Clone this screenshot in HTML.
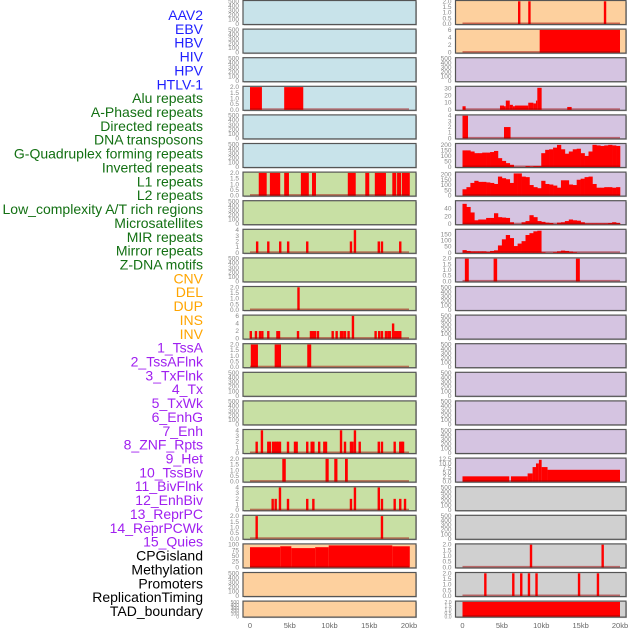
<!DOCTYPE html>
<html><head><meta charset="utf-8"><style>
html,body{margin:0;padding:0;background:#fff;width:630px;height:630px;overflow:hidden}
svg{display:block;font-family:"Liberation Sans",sans-serif}
</style></head><body>
<svg id="chart" width="630" height="630" viewBox="0 0 630 630" xmlns="http://www.w3.org/2000/svg"></svg>
<script>
// ---- labels ----
const trackLabels = ["AAV2","EBV","HBV","HIV","HPV","HTLV-1","Alu repeats","A-Phased repeats","Directed repeats","DNA transposons","G-Quadruplex forming repeats","Inverted repeats","L1 repeats","L2 repeats","Low_complexity A/T rich regions","Microsatellites","MIR repeats","Mirror repeats","Z-DNA motifs","CNV","DEL","DUP","INS","INV","1_TssA","2_TssAFlnk","3_TxFlnk","4_Tx","5_TxWk","6_EnhG","7_Enh","8_ZNF_Rpts","9_Het","10_TssBiv","11_BivFlnk","12_EnhBiv","13_ReprPC","14_ReprPCWk","15_Quies","CPGisland","Methylation","Promoters","ReplicationTiming","TAD_boundary"];
const labelGroups = [0,0,0,0,0,0,1,1,1,1,1,1,1,1,1,1,1,1,1,2,2,2,2,2,3,3,3,3,3,3,3,3,3,3,3,3,3,3,3,4,4,4,4,4];
const groupColors = ["#1f1fff","#137013","#ffa500","#a020f0","#000000"];
const xTickLabels = ["0","5kb","10kb","15kb","20kb"];
const xTickValues = [0,5,10,15,20];

// ---- data (kb positions, values) ----
const aluSegs = [[0,1.5,2],[4.3,6.7,2]];
const l1Segs = [[1.1,2.1,2],[2.5,3.8,2],[4.3,4.9,2],[6.4,7.4,2],[7.8,8.3,2],[12.3,13.3,2],[14.5,15,2],[15.7,17.1,2],[17.9,18.4,2],[18.5,19,2],[19.1,20.1,2]];
const mirPos = [0.9,2.3,3.8,4.8,7.2,12.7,13.2,16.2,16.6,18.9];
const mirVals = [2,2,2,2,2,2,4,2,2,2];
const delPos = [6.1];
const delVals = [2];
const insPos = [0.1,0.75,1.26,1.55,2.3,3.45,3.65,6.04,7.67,7.9,8.18,8.55,10.4,10.9,11.45,11.65,11.95,12.4,12.95,15.8,16.25,16.6,17.1,17.4,17.6,18.0,18.2,18.45,18.65,18.9];
const insVals = [2,2,2,2,2,2,2,2,2,2,2,2,2,2,2,2,2,2,6,2,2,2,2,2,2,4,2,2,2,2];
const tssaSegs = [[0.1,1.0,2],[3.1,3.9,2],[7.2,7.7,2]];
const enhPos = [0.84,1.5,2.3,2.5,2.9,3.15,3.35,3.56,3.77,4.78,5.66,5.87,7.2,7.76,7.97,8.7,9.35,9.56,11.45,11.95,12.7,12.9,13.2,13.8,16.2,16.6,18.2,18.9,19.1,19.25];
const enhVals = [2,4,2,2,2,2,2,2,2,2,2,2,2,2,2,2,2,2,4,2,2,2,4,2,2,2,2,2,2,2];
const hetSegs = [[4.06,4.5,2],[9.5,9.9,2],[10.6,11.0,2],[11.95,12.3,2]];
const bivPos = [2.85,3.23,3.77,4.78,7.2,7.97,12.7,13.2,16.2,16.6,18.2,18.9,19.5];
const bivVals = [2,2,4,2,2,2,2,4,4,2,2,2,2];
const reprPos = [0.84,16.6];
const reprVals = [2,2];
const quiesSegs = [[0,3.8,89],[3.8,5.2,93],[5.2,8.2,85],[8.2,9.9,89],[9.9,17.9,97],[17.9,20.1,93]];
const ebvPos = [7.2,8.5,18.1];
const ebvVals = [2,2,2];
const hivSegs = [[9.8,20,6]];
const aphasedSegs = [[0,0.4,5],[4.76,5.27,6],[5.27,5.5,5],[5.5,6.0,13],[6.0,6.4,7],[6.4,6.66,5],[6.66,8.35,6],[8.35,9.0,10],[9.0,9.33,9],[9.33,9.5,13],[9.5,10.05,31],[13.3,13.86,4]];
const dnaSegs = [[0,0.7,4],[5.27,6.1,2]];
const invertedBins = [150,150,140,125,125,130,130,135,145,80,55,35,20,0,0,0,8,5,8,8,125,155,160,175,200,160,120,140,160,165,125,100,140,200,195,190,195,200,195,190];
const l2Bins = [60,80,120,140,130,130,125,120,110,180,165,155,120,210,210,180,175,100,80,70,140,110,105,95,75,145,145,105,100,150,160,175,180,110,75,75,80,80,75,80];
const microBins = [52,44,30,10,12,12,16,16,28,18,17,16,5,0,0,5,8,23,18,8,6,4,3,0,4,5,8,12,10,9,5,2,2,2,2,2,2,3,5,3];
const mirrorBins = [22,15,12,12,12,12,8,15,20,60,110,145,120,55,75,95,145,160,175,180,5,0,0,5,12,18,15,10,5,0,0,0,0,0,0,0,0,0,0,0];
const cnvSegs = [[0.3,0.8,2],[3.95,4.4,2],[14.4,14.9,2]];
const tssbivSegs = [[0,5.94,2.9],[6.15,8.27,2.9],[8.27,8.9,4.5],[8.9,9.33,8],[9.33,9.7,10],[9.7,10.05,12],[10.05,10.8,8],[10.8,20,6.5]];
const cpgPos = [8.7,17.8];
const cpgVals = [2,2];
const promPos = [2.9,6.45,7.46,8.44,9.4,14.8,17.2];
const promVals = [2,2,2,2,2,2,2];
const tadSegs = [[0,20,2]];

// ---- panel config ----
const BLUE="#c8e3ea", GREEN="#c8e0a4", ORANGE="#fdd09e", PURPLE="#d5c4e1", GRAY="#d0d0d0";
const T500=[0,100,200,300,400,500], T2=[0,0.5,1,1.5,2], T4=[0,1,2,3,4];
function P(name,color,ymax,ticks,kind,a,b){return {name,color,ymax,ticks,kind,a,b};}
const leftPanels = [
 P("aav2",BLUE,500,T500),P("hbv",BLUE,500,T500),P("hpv",BLUE,500,T500),
 P("alu",BLUE,2,T2,"seg",aluSegs),P("directed",BLUE,500,T500),P("g4",BLUE,500,T500),
 P("l1",GREEN,2,T2,"seg",l1Segs),P("lowcomplexity",GREEN,500,T500),
 P("mir",GREEN,4,T4,"spk",mirPos,mirVals),P("zdna",GREEN,500,T500),
 P("del",GREEN,2,T2,"spk",delPos,delVals),P("ins",GREEN,6,[0,2,4,6],"spk",insPos,insVals),
 P("tssa",GREEN,2,T2,"seg",tssaSegs),P("txflnk",GREEN,500,T500),P("txwk",GREEN,500,T500),
 P("enh",GREEN,4,T4,"spk",enhPos,enhVals),P("het",GREEN,2,T2,"seg",hetSegs),
 P("bivflnk",GREEN,4,T4,"spk",bivPos,bivVals),P("reprpc",GREEN,2,T2,"spk",reprPos,reprVals),
 P("quies",ORANGE,100,[0,25,50,75,100],"seg",quiesSegs),P("methylation",ORANGE,500,T500),
 P("replicationtiming",ORANGE,500,T500)];
const rightPanels = [
 P("ebv",ORANGE,2,T2,"spk",ebvPos,ebvVals),P("hiv",ORANGE,6,[0,2,4,6],"seg",hivSegs),
 P("htlv1",PURPLE,500,T500),P("aphased",PURPLE,32,[0,10,20,30],"seg",aphasedSegs),
 P("dna-transposons",PURPLE,4,T4,"seg",dnaSegs),P("inverted",PURPLE,205,[0,50,100,150,200],"bin",invertedBins),
 P("l2",PURPLE,215,[0,50,100,150,200],"bin",l2Bins),P("microsatellites",PURPLE,58,[0,20,40],"bin",microBins),
 P("mirror",PURPLE,185,[0,50,100,150],"bin",mirrorBins),P("cnv",PURPLE,2,T2,"seg",cnvSegs),
 P("dup",PURPLE,500,T500),P("inv",PURPLE,500,T500),P("tssaflnk",PURPLE,500,T500),
 P("tx",PURPLE,500,T500),P("enhg",PURPLE,500,T500),P("znf-rpts",PURPLE,500,T500),
 P("tssbiv",PURPLE,12.5,[0,2.5,5,7.5,10,12.5],"seg",tssbivSegs),
 P("enhbiv",GRAY,500,T500),P("reprpcwk",GRAY,500,T500),
 P("cpgisland",GRAY,2,T2,"spk",cpgPos,cpgVals),P("promoters",GRAY,2,T2,"spk",promPos,promVals),
 P("tad-boundary",GRAY,2,T2,"seg",tadSegs)];

const NS="http://www.w3.org/2000/svg";
const svg=document.getElementById("chart");
function mk(tag,attrs,parent){const e=document.createElementNS(NS,tag);for(const k in attrs)e.setAttribute(k,attrs[k]);(parent||svg).appendChild(e);return e;}

// labels
trackLabels.forEach((t,i)=>{
  const e=mk("text",{x:203,y:20+i*13.86,"text-anchor":"end","font-size":"14",fill:groupColors[labelGroups[i]]});
  
  
  e.textContent=t;
});

function drawColumn(panels,px0,px1,x0kb,x20kb,side){
  const xs=kb=>x0kb+(x20kb-x0kb)*kb/20;
  panels.forEach((p,i)=>{
    const top=i*28.6+0.5;
    const h=(i===21)?16:24;
    const g=mk("g",{});
    
    
    mk("rect",{x:px0+1,y:top+1,width:px1-px0,height:h,fill:"#999",opacity:"0.6"},g);
    mk("rect",{x:px0,y:top,width:px1-px0,height:h,fill:p.color,stroke:"#555","stroke-width":"1.2"},g);
    const y0=top+h-0.5, yT=top+0.8;
    const ys=v=>y0-(y0-yT)*v/p.ymax;
    const fs=(i===21)?5:6.5;
    const dec=p.ticks.some(t=>t%1!==0);
    p.ticks.forEach(tv=>{
      const e=mk("text",{x:px0-4,y:ys(tv)+2,"text-anchor":"end","font-size":fs,fill:"#888"},g);
      
      
      e.textContent=dec?tv.toFixed(1):String(tv);
    });
    if(!p.kind) return;
    const marks=mk("g",{fill:"#ff0000"},g);
    if(p.kind==="seg"){
      p.a.forEach(s=>{
        const r=mk("rect",{x:xs(s[0]),y:ys(s[2]),width:Math.max(1,xs(s[1])-xs(s[0])),height:y0-ys(s[2])},marks);
        
        
      });
    } else if(p.kind==="spk"){
      p.a.forEach((pos,k)=>{
        const r=mk("rect",{x:xs(pos)-1.2,y:ys(p.b[k]),width:2.4,height:y0-ys(p.b[k])},marks);
        
        
      });
    } else if(p.kind==="bin"){
      p.a.forEach((v,k)=>{
        if(v<=0) return;
        const r=mk("rect",{x:xs(k*0.5),y:ys(v),width:xs(0.5)-xs(0)+0.3,height:y0-ys(v)},marks);
        
        
      });
    }
    mk("rect",{x:xs(0),y:y0-1.5,width:xs(20)-xs(0),height:1.5,fill:"#a00000",opacity:"0.5"},g);
  });
  xTickValues.forEach((v,k)=>{
    const e=mk("text",{x:xs(v),y:628,"text-anchor":"middle","font-size":"7.5",fill:"#666"});
    
    
    e.textContent=xTickLabels[k];
  });
}
drawColumn(leftPanels,243,416,250,409,"left");
drawColumn(rightPanels,455.5,626,462.5,620,"right");
</script>
</body></html>
